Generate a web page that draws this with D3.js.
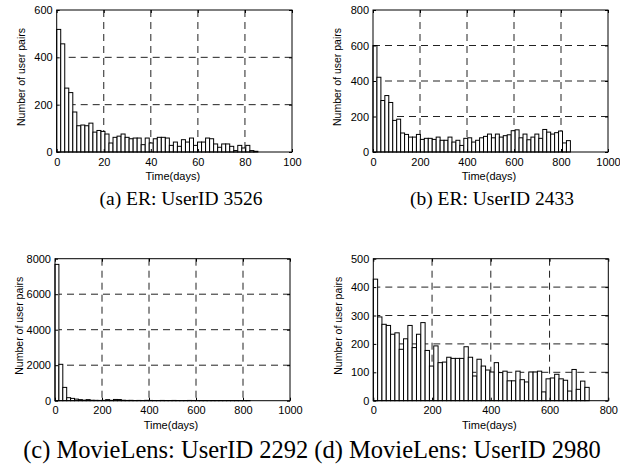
<!DOCTYPE html>
<html><head><meta charset="utf-8">
<script src="https://cdn.jsdelivr.net/npm/d3@7"></script>
<style>body{margin:0;background:#fff}svg{display:block}</style>
</head><body>
<svg id="chart" width="620" height="475"></svg>
<script>
// (a) ER: UserID 3526 — histogram counts (50 bins of ~1.71 days)
const countsA = [518,457,270,251,169,111,114,111,122,84,91,87,76,38,62,67,76,62,56,59,
                 59,31,59,38,56,62,62,59,28,42,24,52,42,59,28,42,42,59,56,34,
                 20,34,34,24,6,28,17,28,6,3];
const binWidthA = 1.71;
const xTicksA = [0,20,40,60,80,100];
const yTicksA = [0,200,400,600];

// (b) ER: UserID 2433 — 50 bins of ~16.8 days
const countsB = [600,421,290,318,279,178,185,107,99,84,84,99,71,77,77,71,84,66,66,84,
                 56,66,37,77,80,56,66,80,88,101,80,101,84,92,97,120,125,80,101,69,
                 84,101,77,127,112,101,109,118,51,64];
const binWidthB = 16.8;
const xTicksB = [0,200,400,600,800,1000];
const yTicksB = [0,200,400,600,800];

// (c) MovieLens: UserID 2292 — 50 bins of ~16.6 days
const countsC = [7680,2050,750,170,130,90,60,30,60,25,20,15,20,60,20,70,65,25,15,20,
                 10,15,10,20,15,10,10,15,10,10,15,10,5,10,15,10,5,10,10,5,
                 10,5,10,5,10,5,10,5,5,10];
const binWidthC = 16.6;
const xTicksC = [0,200,400,600,800,1000];
const yTicksC = [0,2000,4000,6000,8000];

// (d) MovieLens: UserID 2980 — 50 bins of ~14.7 days
const countsD = [428,295,269,265,234,239,181,218,265,187,234,275,177,122,193,134,136,153,149,149,
                 149,190,153,87,146,122,108,101,134,99,104,70,70,104,74,66,101,101,104,31,
                 77,80,93,77,72,34,110,40,69,47];
const binWidthD = 14.7;
const xTicksD = [0,200,400,600,800];
const yTicksD = [0,100,200,300,400,500];

const captionsTop = ["(a) ER: UserID 3526", "(b) ER: UserID 2433"];
const captionBottom = "(c) MovieLens: UserID 2292 (d) MovieLens: UserID 2980";
const xLabel = "Time(days)";
const yLabel = "Number of user pairs";

const panels = [
  {counts: countsA, bin: binWidthA, xTicks: xTicksA, yTicks: yTicksA, l: 56.7, r: 292, t: 10, b: 152},
  {counts: countsB, bin: binWidthB, xTicks: xTicksB, yTicks: yTicksB, l: 373, r: 608, t: 10, b: 152},
  {counts: countsC, bin: binWidthC, xTicks: xTicksC, yTicks: yTicksC, l: 55, r: 290, t: 258.7, b: 400.7},
  {counts: countsD, bin: binWidthD, xTicks: xTicksD, yTicks: yTicksD, l: 373.3, r: 608.3, t: 258.7, b: 400.7}
];

const svg = d3.select("#chart");
const FONT = "'Liberation Sans', Arial, Helvetica, sans-serif";
const fmt = d3.format("d");

panels.forEach(p => {
  const x = d3.scaleLinear().domain([p.xTicks[0], p.xTicks[p.xTicks.length-1]]).range([p.l, p.r]);
  const y = d3.scaleLinear().domain([p.yTicks[0], p.yTicks[p.yTicks.length-1]]).range([p.b, p.t]);
  const g = svg.append("g");

  // dashed grid (behind bars)
  g.selectAll("line.vg").data(p.xTicks.slice(1, -1)).join("line")
    .attr("x1", d => x(d)).attr("x2", d => x(d)).attr("y1", p.t).attr("y2", p.b)
    .attr("stroke", "#222").attr("stroke-width", 1).attr("stroke-dasharray", "7,5");
  g.selectAll("line.hg").data(p.yTicks.slice(1, -1)).join("line")
    .attr("y1", d => y(d)).attr("y2", d => y(d)).attr("x1", p.l).attr("x2", p.r)
    .attr("stroke", "#222").attr("stroke-width", 1).attr("stroke-dasharray", "7,5");

  // bars
  g.selectAll("rect.bar").data(p.counts).join("rect")
    .attr("x", (d, i) => x(i * p.bin))
    .attr("width", x(p.bin) - x(0))
    .attr("y", d => y(d))
    .attr("height", d => y(0) - y(d))
    .attr("fill", "#fff").attr("stroke", "#000").attr("stroke-width", 1);

  // axes
  const ab = d3.axisBottom(x).tickValues(p.xTicks).tickFormat(fmt).tickSizeInner(-3).tickSizeOuter(0).tickPadding(6);
  const al = d3.axisLeft(y).tickValues(p.yTicks).tickFormat(fmt).tickSizeInner(-3).tickSizeOuter(0).tickPadding(4);
  const at = d3.axisTop(x).tickValues(p.xTicks).tickSizeInner(-3).tickSizeOuter(0).tickFormat("");
  const ar = d3.axisRight(y).tickValues(p.yTicks).tickSizeInner(-3).tickSizeOuter(0).tickFormat("");
  [[ab, `translate(0,${p.b})`], [al, `translate(${p.l},0)`], [at, `translate(0,${p.t})`], [ar, `translate(${p.r},0)`]]
    .forEach(([a, tr]) => {
      const ag = g.append("g").attr("transform", tr).call(a);
      ag.select(".domain").remove();
      ag.selectAll("line").attr("stroke", "#000");
      ag.selectAll("text").attr("font-family", FONT).attr("font-size", 11).attr("fill", "#000");
    });

  // frame
  g.append("rect").attr("x", p.l).attr("y", p.t).attr("width", p.r - p.l).attr("height", p.b - p.t)
    .attr("fill", "none").attr("stroke", "#000").attr("stroke-width", 1);

  // labels
  g.append("text").attr("x", (p.l + p.r) / 2 - 1.5).attr("y", p.b + 28)
    .attr("text-anchor", "middle").attr("font-family", FONT).attr("font-size", 11).text(xLabel);
  g.append("text").attr("transform", `translate(${p.l - 31.7},${(p.t + p.b) / 2 - 4}) rotate(-90)`)
    .attr("text-anchor", "middle").attr("font-family", FONT).attr("font-size", 10.5).text(yLabel);
});

const SERIF = "'Liberation Serif', 'Times New Roman', serif";
svg.append("text").attr("x", 181).attr("y", 205).attr("text-anchor", "middle")
  .attr("font-family", SERIF).attr("font-size", 19.5).text(captionsTop[0]);
svg.append("text").attr("x", 492).attr("y", 205).attr("text-anchor", "middle")
  .attr("font-family", SERIF).attr("font-size", 19.5).text(captionsTop[1]);
svg.append("text").attr("x", 312).attr("y", 458).attr("text-anchor", "middle")
  .attr("font-family", SERIF).attr("font-size", 24.5).text(captionBottom);
</script>
</body></html>
